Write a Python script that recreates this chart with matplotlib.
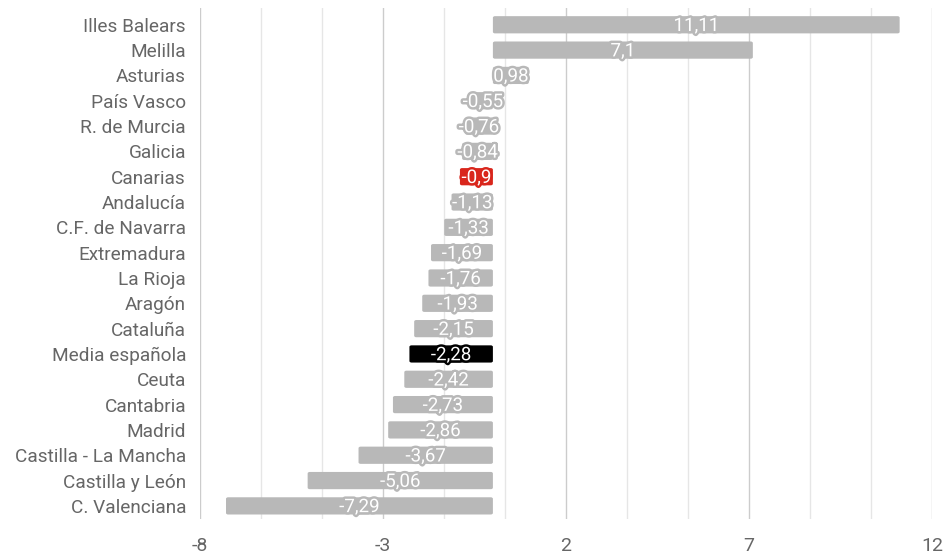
import matplotlib
matplotlib.use('Agg')
from matplotlib import pyplot as plt
from matplotlib.patches import FancyBboxPatch
import matplotlib.patheffects as pe
import numpy as np

plt.rcParams['font.family'] = ['Roboto', 'DejaVu Sans']

regions = ['Illes Balears', 'Melilla', 'Asturias', 'País Vasco', 'R. de Murcia',
           'Galicia', 'Canarias', 'Andalucía', 'C.F. de Navarra', 'Extremadura',
           'La Rioja', 'Aragón', 'Cataluña', 'Media española', 'Ceuta',
           'Cantabria', 'Madrid', 'Castilla - La Mancha', 'Castilla y León',
           'C. Valenciana']
values = [11.11, 7.1, 0.98, -0.55, -0.76, -0.84, -0.9, -1.13, -1.33, -1.69,
          -1.76, -1.93, -2.15, -2.28, -2.42, -2.73, -2.86, -3.67, -5.06, -7.29]
highlight = {'Canarias': '#d9261c', 'Media española': '#000000'}
grey = '#b8b8b8'

fig = plt.figure(figsize=(9.47, 5.54), dpi=100)
ax = fig.add_axes([0.2112, 0.064, 0.7732, 0.921])

y = np.arange(len(regions))
h = 0.68
for i, (name, v) in enumerate(zip(regions, values)):
    c = highlight.get(name, grey)
    x0 = min(0, v)
    w = abs(v)
    p = FancyBboxPatch((x0, i - h / 2), w, h,
                       boxstyle='round,pad=0,rounding_size=0.06',
                       fc=c, ec='none', zorder=2)
    ax.add_patch(p)
    lbl = ('%g' % v).replace('.', ',')
    ax.text(v / 2, i + 0.05, lbl, ha='center', va='center', color='white',
            fontsize=13.5, zorder=3,
            path_effects=[pe.withStroke(linewidth=3.5, foreground=c)])

ax.set_xlim(-8, 12)
ax.set_ylim(len(regions) - 0.5, -0.65)
ax.set_yticks(y)
ax.set_yticklabels(regions, fontsize=13.7, color='#666666')
ax.set_xticks([-8, -3, 2, 7, 12])
ax.set_xticklabels(['-8', '-3', '2', '7', '12'], fontsize=14, color='#666666')
ax.set_xticks(np.arange(-8, 12.01, 5 / 3), minor=True)
ax.tick_params(length=0, which='both')
ax.tick_params(axis='x', pad=13)
ax.tick_params(axis='y', pad=10)
ax.grid(axis='x', which='minor', color='#e6e6e6', lw=1, zorder=0)
ax.grid(axis='x', which='major', color='#cccccc', lw=1, zorder=0)
for s in ax.spines.values():
    s.set_visible(False)

fig.savefig('out.png', dpi=100)
